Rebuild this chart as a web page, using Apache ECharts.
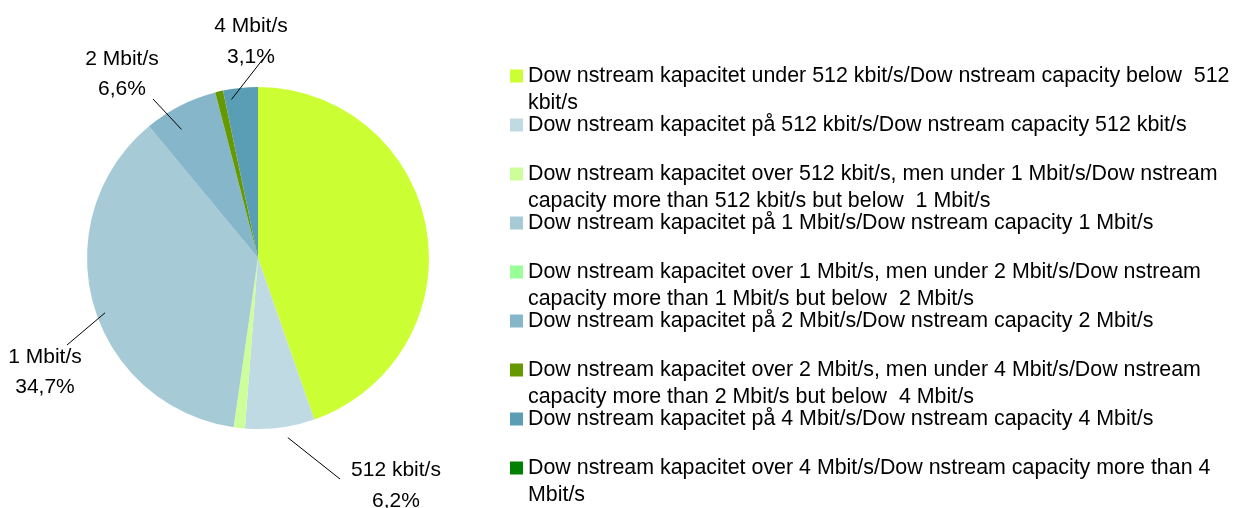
<!DOCTYPE html>
<html>
<head>
<meta charset="utf-8">
<script src="https://cdn.jsdelivr.net/npm/echarts@6/dist/echarts.min.js"></script>
<style>
html, body { margin: 0; padding: 0; background: #fff; }
#chart { width: 1236px; height: 508px; }
</style>
</head>
<body>
<div id="chart"></div>
<script>
// kategorier (legend), i rekkefølge med klokka fra toppen
var categories = [
	'Dow nstream kapacitet under 512 kbit/s/Dow nstream capacity below  512\nkbit/s',
	'Dow nstream kapacitet på 512 kbit/s/Dow nstream capacity 512 kbit/s',
	'Dow nstream kapacitet over 512 kbit/s, men under 1 Mbit/s/Dow nstream\ncapacity more than 512 kbit/s but below  1 Mbit/s',
	'Dow nstream kapacitet på 1 Mbit/s/Dow nstream capacity 1 Mbit/s',
	'Dow nstream kapacitet over 1 Mbit/s, men under 2 Mbit/s/Dow nstream\ncapacity more than 1 Mbit/s but below  2 Mbit/s',
	'Dow nstream kapacitet på 2 Mbit/s/Dow nstream capacity 2 Mbit/s',
	'Dow nstream kapacitet over 2 Mbit/s, men under 4 Mbit/s/Dow nstream\ncapacity more than 2 Mbit/s but below  4 Mbit/s',
	'Dow nstream kapacitet på 4 Mbit/s/Dow nstream capacity 4 Mbit/s',
	'Dow nstream kapacitet over 4 Mbit/s/Dow nstream capacity more than 4\nMbit/s'
];
var shortLabels = [ '', '512 kbit/s', '', '1 Mbit/s', '', '2 Mbit/s', '', '4 Mbit/s', '' ];
var values = [ 42.2, 6.2, 1.0, 34.7, 0, 6.6, 0.7, 3.1, 0 ];
var colors = [ '#ccff33', '#bfdae3', '#ccff99', '#a6cbd6', '#99ff99', '#86b6c9', '#669900', '#5a9eb6', '#008000' ];

var FONT = 'Liberation Sans, Arial, sans-serif';
var CX = 258, CY = 258, R = 171;
var LEG_LEFT = 510, LEG_TOP = 65, LEG_STEP = 49, ICON = 13, LINE_H = 22, LEG_FONT = 21.4;

// plassering av etikettene: tekstsenter, linjeslutt,
// og hvor linja starter (andel av radius, vinkelforskyvning i grader)
var labelPos = {
	1 : { x : 396, y : 485.5, end : [ 340, 479 ], k : 1.065, da : -2 },
	3 : { x : 45, y : 372, end : [ 67, 345 ], k : 0.95, da : -4 },
	5 : { x : 122, y : 74, end : [ 153, 99 ], k : 0.875, da : -3.7 },
	7 : { x : 251, y : 41.5, end : [ 263, 59 ], k : 0.94, da : -3.6 }
};

var chart = echarts.init(document.getElementById('chart'));

var total = values.reduce(function(a, b) { return a + b; }, 0);
var midAngle = [];
var cum = 0;
values.forEach(function(v) {
	midAngle.push((cum + v / 2) / total * 360);
	cum += v;
});

var data = categories.map(function(name, i) {
	return {
		name : name,
		value : values[i],
		itemStyle : { color : colors[i] },
		label : { show : !!shortLabels[i] }
	};
});

var extras = [];

// andre linje i legenden tegnes som egen tekst
categories.forEach(function(name, i) {
	var parts = name.split('\n');
	if (parts.length > 1) {
		extras.push({
			type : 'text',
			x : LEG_LEFT + ICON + 5,
			y : LEG_TOP + i * LEG_STEP + LINE_H / 2 + 27,
			style : {
				text : parts[1],
				fontSize : LEG_FONT,
				fontFamily : FONT,
				fill : '#000',
				verticalAlign : 'middle'
			}
		});
	}
});

// hjelpelinjer fra sektoren til etiketten, over kakestykkene
Object.keys(labelPos).forEach(function(key) {
	var pos = labelPos[key];
	var a = (midAngle[key] + pos.da) * Math.PI / 180;
	extras.push({
		type : 'line',
		z : 10,
		shape : {
			x1 : CX + pos.k * R * Math.sin(a),
			y1 : CY - pos.k * R * Math.cos(a),
			x2 : pos.end[0],
			y2 : pos.end[1]
		},
		style : { stroke : '#000', lineWidth : 1 }
	});
});

var option = {
	animation : false,
	color : colors,
	legend : {
		orient : 'vertical',
		left : LEG_LEFT,
		top : LEG_TOP,
		padding : 0,
		icon : 'rect',
		itemWidth : ICON,
		itemHeight : ICON,
		itemGap : LEG_STEP - LINE_H,
		selectedMode : false,
		data : categories,
		formatter : function(n) {
			return n.split('\n')[0];
		},
		textStyle : {
			fontSize : LEG_FONT,
			lineHeight : LINE_H,
			fontFamily : FONT,
			color : '#000'
		}
	},
	graphic : extras,
	series : [ {
		type : 'pie',
		center : [ CX, CY ],
		radius : R,
		startAngle : 90,
		clockwise : true,
		avoidLabelOverlap : false,
		label : {
			position : 'outside',
			fontSize : 21,
			lineHeight : 30.5,
			fontFamily : FONT,
			color : '#000',
			align : 'center',
			formatter : function(p) {
				return shortLabels[p.dataIndex] + '\n' + p.value.toFixed(1).replace('.', ',') + '%';
			}
		},
		labelLine : { show : false },
		labelLayout : function(p) {
			var pos = labelPos[p.dataIndex];
			if (!pos) return {};
			return {
				x : pos.x,
				y : pos.y,
				align : 'center',
				verticalAlign : 'middle'
			};
		},
		data : data
	} ]
};
chart.setOption(option);
</script>
</body>
</html>
